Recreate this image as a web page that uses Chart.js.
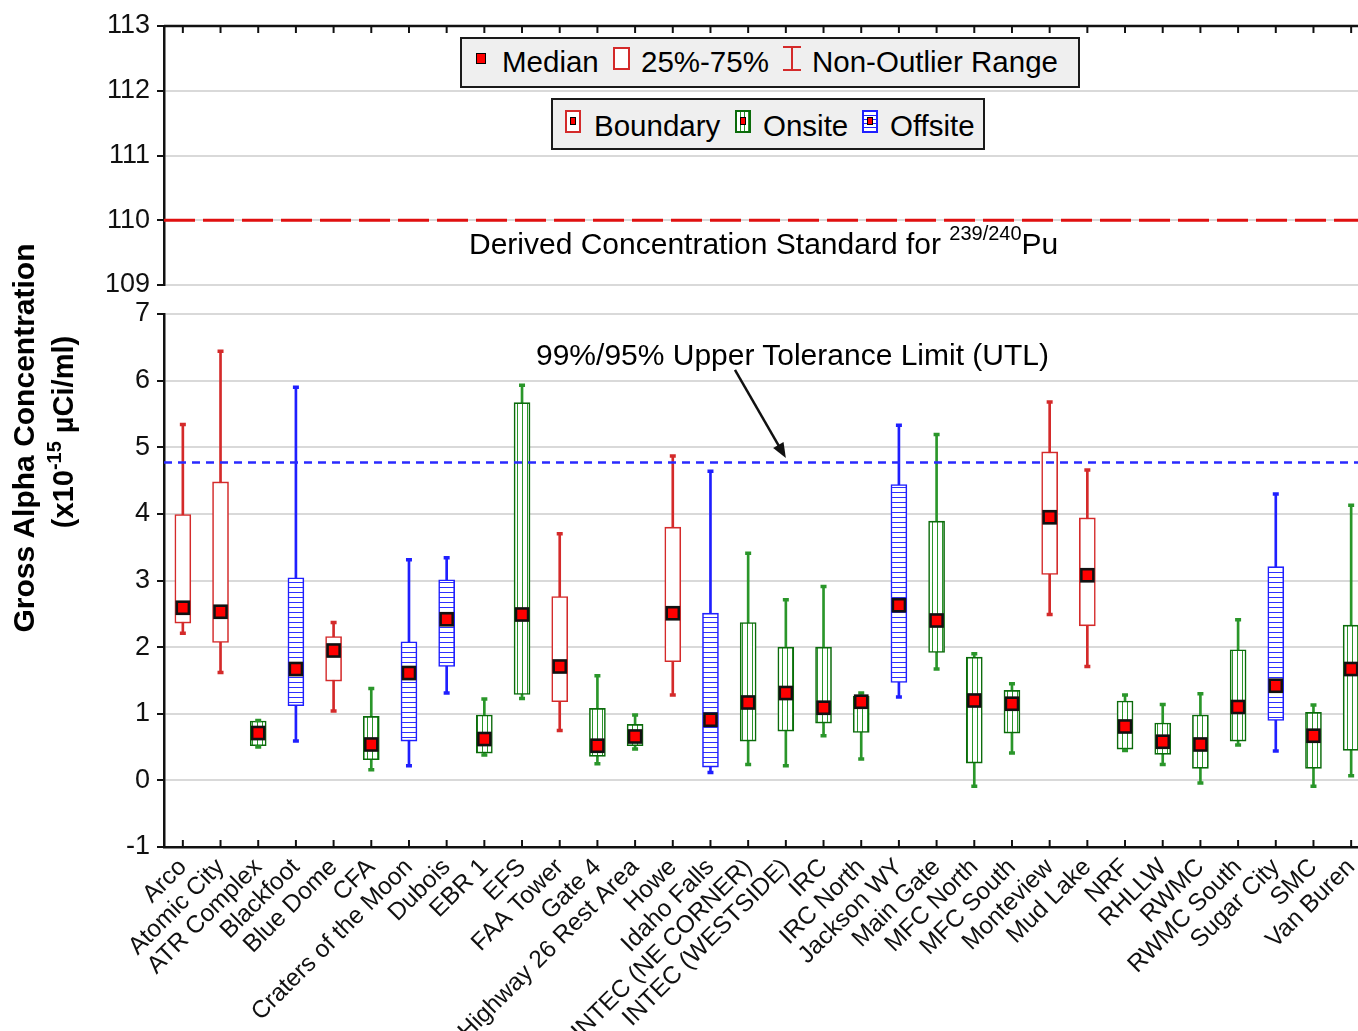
<!DOCTYPE html>
<html><head><meta charset="utf-8">
<script src="https://cdn.jsdelivr.net/npm/chart.js@4/dist/chart.umd.min.js"></script>
<style>
html,body{margin:0;padding:0;background:#fff;overflow:hidden;width:1358px;height:1031px;font-family:'Liberation Sans',Arial,sans-serif;}
#wrap{position:relative;width:1372px;height:1031px;overflow:hidden;}
canvas{position:absolute;left:0;}
.t{position:absolute;white-space:nowrap;line-height:1;color:#000;}
.lg{position:absolute;background:#efefef;border:2.5px solid #1a1a1a;box-sizing:border-box;}
.ic{position:absolute;box-sizing:border-box;}
.rot{position:absolute;white-space:nowrap;line-height:1;font-weight:bold;color:#000;transform:translate(-50%,-50%) rotate(-90deg);}
</style></head>
<body><div id="wrap">
<canvas id="cTop" width="1370" height="300" style="top:0;width:1370px;height:300px"></canvas>
<canvas id="cBot" width="1370" height="741" style="top:290px;width:1370px;height:741px"></canvas>

<div class="lg" style="left:460px;top:37px;width:620px;height:51px"></div>
<div class="ic" style="left:476px;top:53px;width:10px;height:11px;background:#f00;border:1.5px solid #000"></div>
<div class="t" style="left:502px;top:47px;font-size:29.5px">Median</div>
<div class="ic" style="left:613px;top:47px;width:17px;height:23px;background:#fff;border:2px solid #d42a2a"></div>
<div class="t" style="left:641px;top:47px;font-size:29.5px">25%-75%</div>
<div class="ic" style="left:783px;top:46px;width:18px;height:2px;background:#d42a2a"></div>
<div class="ic" style="left:791px;top:46px;width:2px;height:25px;background:#d42a2a"></div>
<div class="ic" style="left:783px;top:69px;width:18px;height:2px;background:#d42a2a"></div>
<div class="t" style="left:812px;top:47px;font-size:29.5px">Non-Outlier Range</div>

<div class="lg" style="left:551px;top:98px;width:434px;height:52px"></div>
<div class="ic" style="left:565px;top:110px;width:16px;height:23px;background:#fff;border:2px solid #d42a2a"></div>
<div class="ic" style="left:570px;top:117px;width:6px;height:8px;background:#f00;border:1.5px solid #000"></div>
<div class="t" style="left:594px;top:111px;font-size:29.5px">Boundary</div>
<div class="ic" style="left:735px;top:110px;width:16px;height:23px;border:2px solid #0b6b0b;background:repeating-linear-gradient(90deg,#fff 0 3px,#2a962a 3px 4px)"></div>
<div class="ic" style="left:740px;top:117px;width:6px;height:8px;background:#f00;border:1.5px solid #000"></div>
<div class="t" style="left:763px;top:111px;font-size:29.5px">Onsite</div>
<div class="ic" style="left:862px;top:110px;width:16px;height:23px;border:2px solid #1f1fff;background:repeating-linear-gradient(180deg,#fff 0 3px,#1f1fff 3px 4px)"></div>
<div class="ic" style="left:867px;top:117px;width:6px;height:8px;background:#f00;border:1.5px solid #000"></div>
<div class="t" style="left:890px;top:111px;font-size:29.5px">Offsite</div>

<div class="t" style="left:469px;top:229px;font-size:30px">Derived Concentration Standard for <span style="font-size:20px;position:relative;top:-14px">239/240</span>Pu</div>
<div class="t" style="left:536px;top:340px;font-size:30px">99%/95% Upper Tolerance Limit (UTL)</div>

<div class="rot" style="left:24px;top:438px;font-size:30px">Gross Alpha Concentration</div>
<div class="rot" style="left:63px;top:432px;font-size:29px">(x10<span style="font-size:20px;position:relative;top:-12px">-15</span> µCi/ml)</div>
</div>
<script>
// ---------- data ----------
const CATEGORIES = ['Arco','Atomic City','ATR Complex','Blackfoot','Blue Dome','CFA','Craters of the Moon','Dubois','EBR 1','EFS','FAA Tower','Gate 4','Highway 26 Rest Area','Howe','Idaho Falls','INTEC (NE CORNER)','INTEC (WESTSIDE)','IRC','IRC North','Jackson WY','Main Gate','MFC North','MFC South','Monteview','Mud Lake','NRF','RHLLW','RWMC','RWMC South','Sugar City','SMC','Van Buren'];
const GROUPS = ['Boundary','Boundary','Onsite','Offsite','Boundary','Onsite','Offsite','Offsite','Onsite','Onsite','Boundary','Onsite','Onsite','Boundary','Offsite','Onsite','Onsite','Onsite','Onsite','Offsite','Onsite','Onsite','Onsite','Boundary','Boundary','Onsite','Onsite','Onsite','Onsite','Offsite','Onsite','Onsite'];
const WHISKER_LOW  = [2.21,1.62,0.50,0.59,1.04,0.16,0.22,1.31,0.38,1.23,0.75,0.25,0.47,1.28,0.12,0.24,0.22,0.67,0.32,1.25,1.67,-0.09,0.41,2.49,1.71,0.45,0.24,-0.04,0.53,0.44,-0.09,0.07];
const Q1           = [2.36,2.07,0.52,1.12,1.49,0.31,0.59,1.71,0.41,1.29,1.18,0.36,0.52,1.78,0.20,0.59,0.74,0.86,0.72,1.47,1.92,0.26,0.71,3.09,2.32,0.47,0.39,0.18,0.59,0.90,0.18,0.45];
const MEDIAN       = [2.59,2.53,0.71,1.67,1.95,0.54,1.61,2.42,0.62,2.49,1.71,0.52,0.66,2.51,0.91,1.17,1.31,1.09,1.18,2.63,2.40,1.20,1.15,3.95,3.08,0.81,0.58,0.54,1.10,1.42,0.67,1.67];
const Q3           = [3.99,4.48,0.89,3.04,2.16,0.96,2.08,3.01,0.98,5.67,2.76,1.08,0.84,3.80,2.51,2.37,2.00,2.00,1.26,4.44,3.89,1.85,1.35,4.93,3.94,1.19,0.86,0.98,1.96,3.21,1.02,2.33];
const WHISKER_HIGH = [5.34,6.44,0.90,5.90,2.37,1.38,3.31,3.34,1.22,5.93,3.70,1.57,0.98,4.87,4.64,3.41,2.71,2.91,1.31,5.33,5.19,1.90,1.45,5.68,4.66,1.28,1.14,1.30,2.41,4.30,1.13,4.13];
const UPPER_RANGE = [109, 113];
const LOWER_RANGE = [-1, 7];
const DCS_VALUE = 110;
const UTL_VALUE = 4.77;
const ARROW_FROM = [14.65, 6.16];
const ARROW_TO = [16, 4.84];

// ---------- styles ----------
Chart.defaults.font.family = "'Liberation Sans', Arial, sans-serif";
Chart.defaults.color = '#111';
function pattern(dir, color){
  const c = document.createElement('canvas');
  const n = 5;
  c.width = n; c.height = n;
  const x = c.getContext('2d');
  x.fillStyle = '#fff'; x.fillRect(0,0,n,n);
  x.fillStyle = color;
  if (dir === 'v') x.fillRect(2,0,1,n); else x.fillRect(0,2,n,1);
  return x.createPattern(c,'repeat');
}
const STYLE = {
  Boundary: {line:'#d42a2a', border:'#d42a2a', fill:'#ffffff'},
  Onsite:   {line:'#2a962a', border:'#0b6b0b', fill:pattern('v','#2a962a')},
  Offsite:  {line:'#1f1fff', border:'#1f1fff', fill:pattern('h','#2f2fff')}
};
const lineCols = GROUPS.map(g => STYLE[g].line);

const yAxisBase = (range) => ({
  min: range[0], max: range[1],
  afterFit: s => { s.width = 164; s.paddingTop = 0; s.paddingBottom = 0; },
  ticks: {stepSize: 1, font: {size: 27}, color: '#111', padding: 7},
  grid: {color: '#d9d9d9', lineWidth: 2, tickColor: '#111', tickLength: 7, tickWidth: 2},
  border: {display: true, color: '#111', width: 2.5}
});

const innerTicks = (where) => ({
  id: 'innerTicks' + where,
  afterDraw(chart){
    const {ctx, chartArea: a, scales: {x}} = chart;
    ctx.save();
    ctx.strokeStyle = '#111'; ctx.lineWidth = 2.5;
    const y0 = where === 'top' ? a.top : a.bottom;
    if (where === 'top') { ctx.beginPath(); ctx.moveTo(a.left, y0); ctx.lineTo(a.right, y0); ctx.stroke(); }
    ctx.lineWidth = 2;
    CATEGORIES.forEach((c, i) => {
      const px = x.getPixelForValue(i);
      ctx.beginPath(); ctx.moveTo(px, y0); ctx.lineTo(px, where === 'top' ? y0 + 7 : y0 - 7); ctx.stroke();
    });
    ctx.restore();
  }
});

const refLine = (value, color, width, dash) => ({
  id: 'ref' + value,
  afterDatasetsDraw(chart){
    const {ctx, chartArea: a, scales: {y}} = chart;
    const py = y.getPixelForValue(value);
    ctx.save();
    ctx.strokeStyle = color; ctx.lineWidth = width; ctx.setLineDash(dash);
    ctx.beginPath(); ctx.moveTo(a.left, py); ctx.lineTo(a.right, py); ctx.stroke();
    ctx.restore();
  }
});

const arrowPlugin = {
  id: 'arrow',
  afterDatasetsDraw(chart){
    const {ctx, scales: {x, y}} = chart;
    const x1 = x.getPixelForValue(ARROW_FROM[0]), y1 = y.getPixelForValue(ARROW_FROM[1]);
    const x2 = x.getPixelForValue(ARROW_TO[0]), y2 = y.getPixelForValue(ARROW_TO[1]);
    const ang = Math.atan2(y2 - y1, x2 - x1);
    const L = 15, W = 6;
    ctx.save();
    ctx.strokeStyle = '#111'; ctx.fillStyle = '#111'; ctx.lineWidth = 2.5;
    ctx.beginPath(); ctx.moveTo(x1, y1);
    ctx.lineTo(x2 - Math.cos(ang) * L * 0.8, y2 - Math.sin(ang) * L * 0.8); ctx.stroke();
    ctx.beginPath();
    ctx.moveTo(x2, y2);
    ctx.lineTo(x2 - Math.cos(ang) * L - Math.sin(ang) * W, y2 - Math.sin(ang) * L + Math.cos(ang) * W);
    ctx.lineTo(x2 - Math.cos(ang) * L + Math.sin(ang) * W, y2 - Math.sin(ang) * L - Math.cos(ang) * W);
    ctx.closePath(); ctx.fill();
    ctx.restore();
  }
};

// ---------- upper panel ----------
new Chart(document.getElementById('cTop'), {
  type: 'bar',
  data: {labels: CATEGORIES, datasets: []},
  options: {
    responsive: false, maintainAspectRatio: false, animation: false, events: [],
    layout: {autoPadding: false, padding: {top: 26, bottom: 15, left: 0, right: 0}},
    plugins: {legend: {display: false}, tooltip: {enabled: false}},
    scales: {
      x: {display: false, offset: true},
      y: yAxisBase(UPPER_RANGE)
    }
  },
  plugins: [refLine(DCS_VALUE, '#e01010', 3, [31, 8]), innerTicks('top')]
});

// ---------- lower panel ----------
new Chart(document.getElementById('cBot'), {
  type: 'bar',
  data: {
    labels: CATEGORIES,
    datasets: [
      {type: 'bar', data: CATEGORIES.map((c, i) => [WHISKER_LOW[i], WHISKER_HIGH[i]]),
       backgroundColor: lineCols, borderWidth: 0, barThickness: 2, grouped: false, order: 5},
      {type: 'bar', data: CATEGORIES.map((c, i) => [Q1[i], Q3[i]]),
       backgroundColor: GROUPS.map(g => STYLE[g].fill), borderColor: GROUPS.map(g => STYLE[g].border),
       borderWidth: 1.6, borderSkipped: false, barThickness: 16, grouped: false, order: 4},
      {type: 'line', data: WHISKER_LOW, showLine: false, pointStyle: 'line', pointRadius: 3,
       pointBorderWidth: 3.5, pointBorderColor: lineCols, order: 3},
      {type: 'line', data: WHISKER_HIGH, showLine: false, pointStyle: 'line', pointRadius: 3,
       pointBorderWidth: 3.5, pointBorderColor: lineCols, order: 3},
      {type: 'line', data: MEDIAN, showLine: false, pointStyle: 'rect', pointRadius: 10.5,
       pointBackgroundColor: 'rgba(70,70,70,0.45)', pointBorderWidth: 0, order: 1},
      {type: 'line', data: MEDIAN, showLine: false, pointStyle: 'rect', pointRadius: 8.5,
       pointBackgroundColor: '#ff0000', pointBorderColor: '#111', pointBorderWidth: 2.5, order: 0}
    ]
  },
  options: {
    responsive: false, maintainAspectRatio: false, animation: false, events: [],
    layout: {autoPadding: false, padding: {top: 24, bottom: 0, left: 0, right: 0}},
    plugins: {legend: {display: false}, tooltip: {enabled: false}},
    scales: {
      x: {
        offset: true,
        afterFit: s => { s.height = 184; s.paddingLeft = 0; s.paddingRight = 0; },
        ticks: {autoSkip: false, minRotation: 45, maxRotation: 45, font: {size: 24.5}, color: '#111', padding: 6},
        grid: {display: false, drawTicks: false},
        border: {display: true, color: '#111', width: 2.5}
      },
      y: yAxisBase(LOWER_RANGE)
    }
  },
  plugins: [refLine(UTL_VALUE, '#2a2aff', 2.5, [8, 6]), arrowPlugin, innerTicks('bottom')]
});
</script>
</body></html>
